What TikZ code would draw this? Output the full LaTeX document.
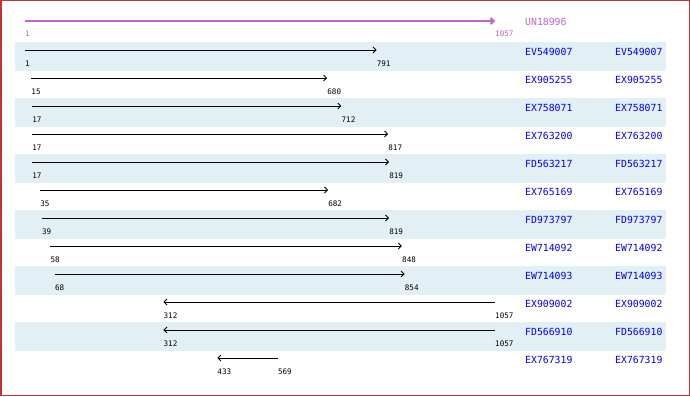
\documentclass[tikz,border=0pt]{standalone}
\usepackage{fontspec}
\setmonofont{DejaVu Sans Mono}
\usetikzlibrary{arrows.meta}
\definecolor{stripe}{RGB}{226,240,245}
\definecolor{mag}{RGB}{200,100,200}
\definecolor{namecol}{RGB}{0,0,240}
\definecolor{frame}{RGB}{200,50,50}
\tikzset{
  hit/.style={draw=black, line width=0.9pt, -{Straight Barb[length=3pt,width=6pt]}},
  query/.style={draw=mag, line width=2pt, -{Straight Barb[length=3pt,width=6pt]}},
  numlab/.style={anchor=west, inner sep=0pt, font=\ttfamily\fontsize{7.6}{8}\selectfont},
  namelab/.style={anchor=west, inner sep=0pt, font=\ttfamily\fontsize{9.8}{11}\selectfont, text=namecol},
}
\begin{document}
\begin{tikzpicture}[x=1pt,y=-1pt]
\useasboundingbox (0,0) rectangle (690,396);
\fill[white] (0,0) rectangle (690,396);
% stripes
\foreach \i in {0,2,4,6,8,10}{
  \fill[stripe] (15,{42+28*\i}) rectangle (666,{71+28*\i});
}
% query
\coordinate (qs) at (25,21);
\coordinate (qe) at (495,21);
\draw[query] (qs) -- (qe);
\node[numlab, text=mag] (ql1) at (25,34) {1};
\node[numlab, text=mag] (ql2) at (495,34) {1057};
\node[namelab, text=mag] (qn) at (525,22) {UN18996};
% hits
\foreach \i/\nm/\a/\b/\dir in {
  0/EV549007/1/791/f,
  1/EX905255/15/680/f,
  2/EX758071/17/712/f,
  3/EX763200/17/817/f,
  4/FD563217/17/819/f,
  5/EX765169/35/682/f,
  6/FD973797/39/819/f,
  7/EW714092/58/848/f,
  8/EW714093/68/854/f,
  9/EX909002/312/1057/r,
  10/FD566910/312/1057/r,
  11/EX767319/433/569/r}{
  \pgfmathsetmacro{\xa}{25+(\a-1)/1056*470}
  \pgfmathsetmacro{\xb}{25+(\b-1)/1056*470}
  \pgfmathsetmacro{\yy}{50+28*\i}
  \coordinate (s\i) at (\xa,\yy);
  \coordinate (e\i) at (\xb,\yy);
  \if\dir f
    \draw[hit] (s\i) -- (e\i);
  \else
    \draw[hit] (e\i) -- (s\i);
  \fi
  \node[numlab] (ls\i) at (\xa,\yy+14) {\a};
  \node[numlab] (le\i) at (\xb,\yy+14) {\b};
  \node[namelab] (na\i) at (525,\yy+1.5) {\nm};
  \node[namelab] (nb\i) at (615,\yy+1.5) {\nm};
}
% frame
\draw[frame, line width=1.5pt] (0.75,0.75) rectangle (689.25,395.25);
\end{tikzpicture}
\end{document}
